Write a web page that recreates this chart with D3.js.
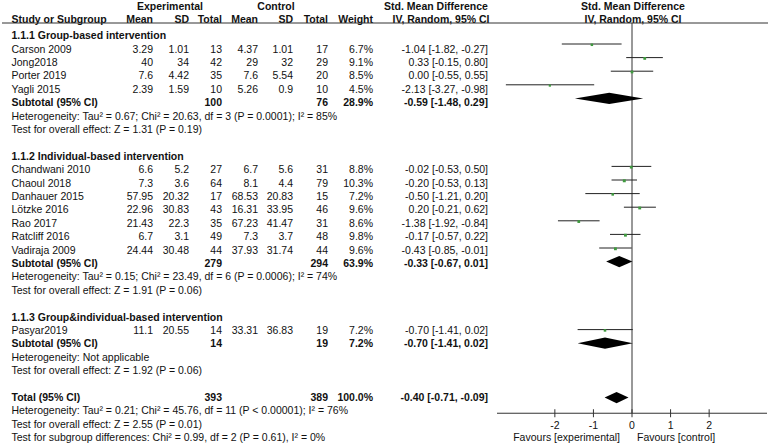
<!DOCTYPE html>
<html>
<head>
<meta charset="utf-8">
<script src="https://cdn.jsdelivr.net/npm/d3@7"></script>
<style>
  body { margin: 0; background: #fff; }
  svg text { font-family: "Liberation Sans", Arial, sans-serif; font-size: 10.5px; fill: #111; }
  .b { font-weight: bold; }
</style>
</head>
<body>
<div id="chart"></div>
<script>
// study level data
const studies = ["Carson 2009", "Jong2018", "Porter 2019", "Yagli 2015",
  "Chandwani 2010", "Chaoul 2018", "Danhauer 2015", "Lötzke 2016", "Rao 2017", "Ratcliff 2016", "Vadiraja 2009",
  "Pasyar2019"];
const studyGroup = [0, 0, 0, 0, 1, 1, 1, 1, 1, 1, 1, 2];
const expMean = [3.29, 40, 7.6, 2.39, 6.6, 7.3, 57.95, 22.96, 21.43, 6.7, 24.44, 11.1];
const expSD   = [1.01, 34, 4.42, 1.59, 5.2, 3.6, 20.32, 30.83, 22.3, 3.1, 30.48, 20.55];
const expN    = [13, 42, 35, 10, 27, 64, 17, 43, 35, 49, 44, 14];
const ctlMean = [4.37, 29, 7.6, 5.26, 6.7, 8.1, 68.53, 16.31, 67.23, 7.3, 37.93, 33.31];
const ctlSD   = [1.01, 32, 5.54, 0.9, 5.6, 4.4, 20.83, 33.95, 41.47, 3.7, 31.74, 36.83];
const ctlN    = [17, 29, 20, 10, 31, 79, 15, 46, 31, 48, 44, 19];
const weight  = [6.7, 9.1, 8.5, 4.5, 8.8, 10.3, 7.2, 9.6, 8.6, 9.8, 9.6, 7.2];
const smd     = [-1.04, 0.33, 0.00, -2.13, -0.02, -0.20, -0.50, 0.20, -1.38, -0.17, -0.43, -0.70];
const smdLo   = [-1.82, -0.15, -0.55, -3.27, -0.53, -0.53, -1.21, -0.21, -1.92, -0.57, -0.85, -1.41];
const smdHi   = [-0.27, 0.80, 0.55, -0.98, 0.50, 0.13, 0.20, 0.62, -0.84, 0.22, -0.01, 0.02];

// subgroup data
const groupTitles = ["1.1.1 Group-based intervention", "1.1.2 Individual-based intervention",
  "1.1.3 Group&individual-based intervention"];
const subExpN = [100, 279, 14];
const subCtlN = [76, 294, 19];
const subWeight = [28.9, 63.9, 7.2];
const subSmd = [-0.59, -0.33, -0.70];
const subLo  = [-1.48, -0.67, -1.41];
const subHi  = [0.29, 0.01, 0.02];
const subHet = [
  "Heterogeneity: Tau² = 0.67; Chi² = 20.63, df = 3 (P = 0.0001); I² = 85%",
  "Heterogeneity: Tau² = 0.15; Chi² = 23.49, df = 6 (P = 0.0006); I² = 74%",
  "Heterogeneity: Not applicable"];
const subTest = [
  "Test for overall effect: Z = 1.31 (P = 0.19)",
  "Test for overall effect: Z = 1.91 (P = 0.06)",
  "Test for overall effect: Z = 1.92 (P = 0.06)"];

// overall
const totalExpN = 393, totalCtlN = 389, totalWeight = 100.0;
const totalSmd = -0.40, totalLo = -0.71, totalHi = -0.09;
const totalNotes = [
  "Heterogeneity: Tau² = 0.21; Chi² = 45.76, df = 11 (P < 0.00001); I² = 76%",
  "Test for overall effect: Z = 2.55 (P = 0.01)",
  "Test for subgroup differences: Chi² = 0.99, df = 2 (P = 0.61), I² = 0%"];

const xTicks = [-2, -1, 0, 1, 2];

const WIDTH = 779, HEIGHT = 448;
const COL = {name: 11.5, eMean: 153, eSD: 189, eN: 222, cMean: 258, cSD: 293, cN: 328, w: 373, ci: 488};

const svg = d3.select("#chart").append("svg")
  .attr("width", WIDTH).attr("height", HEIGHT);

// x scale for the forest part
const X = d3.scaleLinear().domain([-3.5, 3.5]).range([497, 767]);

// row scales: one for the text table, one for the plotted marks
const TEXT_Y = d3.scaleLinear().domain([0, 26]).range([49, 397.4]);
const PLOT_Y = d3.scaleLinear().domain([0, 26]).range([44, 397.6]);

// build the table rows (row -1 is the first section title)
const rows = [];
let r = -1;
groupTitles.forEach((title, g) => {
  rows.push({type: "title", row: r, label: title});
  r++;
  studies.forEach((s, i) => {
    if (studyGroup[i] !== g) return;
    rows.push({type: "study", row: r, label: s, i: i});
    r++;
  });
  rows.push({type: "sub", row: r, g: g}); r++;
  rows.push({type: "note", row: r, label: subHet[g]}); r++;
  rows.push({type: "note", row: r, label: subTest[g]}); r++;
  r++; // blank line before the next block
});
rows.push({type: "total", row: r});
totalNotes.forEach((t, k) => rows.push({type: "note", row: r + 1 + k, label: t}));

const fmt2 = d => d.toFixed(2);
const ciText = (m, lo, hi) => fmt2(m) + " [" + fmt2(lo) + ", " + fmt2(hi) + "]";

function txt(x, y, s, anchor, bold) {
  svg.append("text").attr("x", x).attr("y", y).attr("dy", "0.35em")
    .attr("text-anchor", anchor || "start")
    .attr("class", bold ? "b" : null)
    .text(s);
}

// headers
txt(170, 6, "Experimental", "middle", true);
txt(276, 6, "Control", "middle", true);
txt(436, 6, "Std. Mean Difference", "middle", true);
txt(633, 6, "Std. Mean Difference", "middle", true);
txt(COL.name, 19, "Study or Subgroup", "start", true);
txt(COL.eMean, 19, "Mean", "end", true);
txt(COL.eSD, 19, "SD", "end", true);
txt(COL.eN, 19, "Total", "end", true);
txt(COL.cMean, 19, "Mean", "end", true);
txt(COL.cSD, 19, "SD", "end", true);
txt(COL.cN, 19, "Total", "end", true);
txt(COL.w, 19, "Weight", "end", true);
txt(441, 19, "IV, Random, 95% CI", "middle", true);
txt(633, 19, "IV, Random, 95% CI", "middle", true);

svg.append("line").attr("x1", 2).attr("x2", 768).attr("y1", 23).attr("y2", 23)
  .attr("stroke", "#333").attr("stroke-width", 1);

// zero line
svg.append("line").attr("x1", X(0)).attr("x2", X(0))
  .attr("y1", 23).attr("y2", PLOT_Y(27.15))
  .attr("stroke", "#333").attr("stroke-width", 1);

rows.forEach(d => {
  const y = TEXT_Y(d.row);
  if (d.type === "title") {
    txt(COL.name, y, d.label, "start", true);
  } else if (d.type === "note") {
    txt(COL.name, y, d.label, "start", false);
  } else if (d.type === "study") {
    const i = d.i;
    txt(COL.name, y, d.label);
    txt(COL.eMean, y, String(expMean[i]), "end");
    txt(COL.eSD, y, String(expSD[i]), "end");
    txt(COL.eN, y, String(expN[i]), "end");
    txt(COL.cMean, y, String(ctlMean[i]), "end");
    txt(COL.cSD, y, String(ctlSD[i]), "end");
    txt(COL.cN, y, String(ctlN[i]), "end");
    txt(COL.w, y, weight[i].toFixed(1) + "%", "end");
    txt(COL.ci, y, ciText(smd[i], smdLo[i], smdHi[i]), "end");
  } else if (d.type === "sub") {
    const g = d.g;
    txt(COL.name, y, "Subtotal (95% CI)", "start", true);
    txt(COL.eN, y, String(subExpN[g]), "end", true);
    txt(COL.cN, y, String(subCtlN[g]), "end", true);
    txt(COL.w, y, subWeight[g].toFixed(1) + "%", "end", true);
    txt(COL.ci, y, ciText(subSmd[g], subLo[g], subHi[g]), "end", true);
  } else if (d.type === "total") {
    txt(COL.name, y, "Total (95% CI)", "start", true);
    txt(COL.eN, y, String(totalExpN), "end", true);
    txt(COL.cN, y, String(totalCtlN), "end", true);
    txt(COL.w, y, totalWeight.toFixed(1) + "%", "end", true);
    txt(COL.ci, y, ciText(totalSmd, totalLo, totalHi), "end", true);
  }
});

// forest marks
const plot = svg.append("g");
const diamond = (m, lo, hi, y, h) =>
  "M" + X(lo) + "," + y + "L" + X(m) + "," + (y - h) + "L" + X(hi) + "," + y + "L" + X(m) + "," + (y + h) + "Z";

rows.forEach(d => {
  const y = PLOT_Y(d.row);
  if (d.type === "study") {
    const i = d.i;
    plot.append("line").attr("x1", X(smdLo[i])).attr("x2", X(smdHi[i]))
      .attr("y1", y).attr("y2", y).attr("stroke", "#222").attr("stroke-width", 1);
    const s = 1.6 + weight[i] * 0.13;
    plot.append("rect").attr("x", X(smd[i]) - s / 2).attr("y", y - s / 2 + 0.8)
      .attr("width", s).attr("height", s).attr("fill", "#3f9a3f");
  } else if (d.type === "sub") {
    const g = d.g;
    plot.append("path").attr("d", diamond(subSmd[g], subLo[g], subHi[g], y, 5.6)).attr("fill", "#000");
  } else if (d.type === "total") {
    plot.append("path").attr("d", diamond(totalSmd, totalLo, totalHi, y, 5.6)).attr("fill", "#000");
  }
});

// x axis
const axisY = PLOT_Y(27.15);
svg.append("line").attr("x1", X.range()[0]).attr("x2", X.range()[1])
  .attr("y1", axisY).attr("y2", axisY).attr("stroke", "#333");
const tk = svg.append("g").selectAll("g").data(xTicks).join("g");
tk.append("line").attr("x1", d => X(d)).attr("x2", d => X(d))
  .attr("y1", axisY - 4).attr("y2", axisY + 4).attr("stroke", "#333");
tk.append("text").attr("x", d => X(d)).attr("y", axisY + 12).attr("dy", "0.35em")
  .attr("text-anchor", "middle").text(d => String(d));

txt(X(0) - 12, axisY + 24, "Favours [experimental]", "end");
txt(X(0) + 5, axisY + 24, "Favours [control]", "start");
</script>
</body>
</html>
